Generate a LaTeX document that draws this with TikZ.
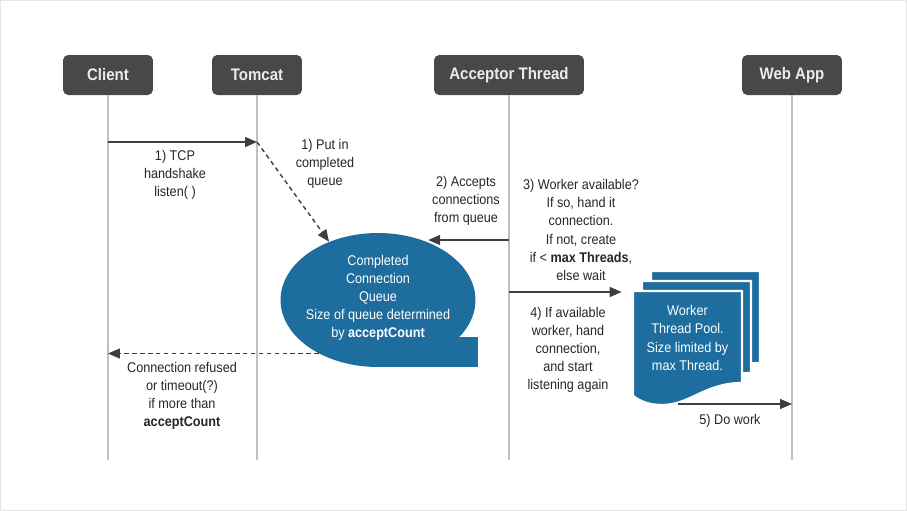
\documentclass[tikz,border=0pt]{standalone}
\usepackage{fontspec}
\setmainfont{Liberation Sans}[FakeStretch=0.9]
\usetikzlibrary{arrows.meta, positioning, calc, shapes.geometric}
\definecolor{headgray}{RGB}{72,72,72}
\definecolor{qblue}{RGB}{29,109,158}
\definecolor{lanegray}{RGB}{192,192,192}
\definecolor{arrgray}{RGB}{62,62,62}
\tikzset{
  head/.style={fill=headgray, rounded corners=3pt, text=white!92!black,
    font=\fontsize{9.5}{11}\selectfont\bfseries, minimum height=0.8cm, minimum width=1.8cm},
  lane/.style={draw=lanegray, line width=1.1pt},
  arr/.style={-{Triangle[length=2.4mm, width=2mm]}, color=arrgray, line width=0.8pt},
  dasharr/.style={arr, dash pattern=on 2.5pt off 2pt},
  lbl/.style={align=center, font=\fontsize{8}{10.3}\selectfont, text=black!85, inner sep=0pt},
  wlbl/.style={lbl, text=white},
  card/.style={fill=qblue, draw=white, line width=1.3pt},
}

\begin{document}
\begin{tikzpicture}[x=0.02cm, y=-0.02cm]
    \useasboundingbox (0,0) rectangle (907,511);
    \draw[gray!20, line width=0.8pt] (0.5,0.5) rectangle (906.5,510.5);
    % heads and lifelines
    \node[head] (client) at (108,75) {Client};
    \node[head] (tomcat) at (257,75) {Tomcat};
    \node[head, minimum width=3cm] (acceptor) at (509,75) {Acceptor Thread};
    \node[head, minimum width=2cm] (webapp) at (792,75) {Web App};
    \coordinate (bot) at (0,460);
    \foreach \n in {client,tomcat,acceptor,webapp}
      \draw[lane] (\n.south) -- (\n.south |- bot);
    % completed connection queue
    \node[ellipse, fill=qblue, minimum width=3.9cm, minimum height=2.68cm] (queue) at (378,300) {};
    \fill[qblue] ($(queue.center)+(0,37)$) rectangle ($(queue.south)+(100,0)$);
    \node[wlbl] (qtext) at (378,298) {Completed\\Connection\\Queue\\Size of queue determined\\by \textbf{acceptCount}};
    % worker thread pool
    \foreach \k in {2,1,0}{
      \begin{scope}[shift={(9*\k,-10*\k)}]
        \filldraw[card] (633,291) -- (742,291) -- (742,383)
          .. controls (705,383) and (690,405) .. (662,405)
          .. controls (648,405) and (640,401) .. (633,396) -- cycle;
      \end{scope}
    }
    \node[wlbl, minimum width=2.18cm, minimum height=1.84cm] (pool) at (687.5,338) {Worker\\Thread Pool.\\Size limited by\\max Thread.};
    % messages
    \coordinate (hs) at (0,142);
    \draw[arr] (client |- hs) -- (tomcat |- hs);
    \node[lbl] (l1) at (175,175) {1) TCP\\handshake\\listen( )};
    \draw[dasharr] (tomcat |- hs) -- (queue.130);
    \node[lbl] (l1b) at (325,164) {1) Put in\\completed\\queue};
    \coordinate (ac) at (0,240);
    \draw[arr] (acceptor |- ac) -- (ac -| queue.49);
    \node[lbl] (l2) at (466,201) {2) Accepts\\connections\\from queue};
    \node[lbl] (l3) at (581,230) {3) Worker available?\\If so, hand it\\connection.\\If not, create\\if < \textbf{max Threads},\\else wait};
    \coordinate (wk) at (0,292);
    \draw[arr, shorten >=2.2mm] (acceptor |- wk) -- (pool.west |- wk);
    \node[lbl] (l4) at (568,350) {4) If available\\worker, hand\\connection,\\and start\\listening again};
    \coordinate (dw) at (0,404);
    \draw[arr] ($(pool.south |- dw)+(-10,0)$) -- (webapp |- dw);
    \node[lbl] (l5) at (730,421) {5) Do work};
    \draw[dasharr] (queue.222) -- (queue.222 -| client);
    \node[lbl] (l6) at (182,396) {Connection refused\\or timeout(?)\\if more than\\\textbf{acceptCount}};
\end{tikzpicture}
\end{document}
